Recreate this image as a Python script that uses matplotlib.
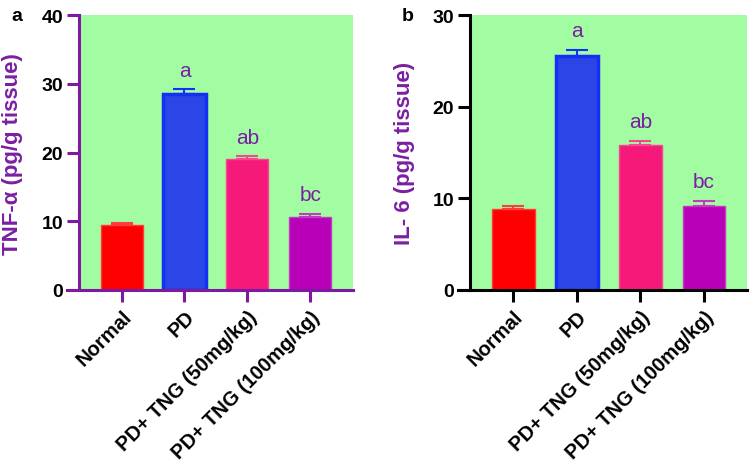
import numpy as np
import matplotlib
matplotlib.use('Agg')
import matplotlib.pyplot as plt

plt.rcParams['font.family'] = ['Liberation Sans', 'DejaVu Sans']

groups = ['Normal', 'PD', 'PD+ TNG (50mg/kg)', 'PD+ TNG (100mg/kg)']
tnf_mean = [9.4, 28.6, 19.0, 10.6]
tnf_err = [0.4, 0.6, 0.45, 0.5]
il6_mean = [8.85, 25.5, 15.8, 9.15]
il6_err = [0.35, 0.7, 0.45, 0.55]
letters = ['', 'a', 'ab', 'bc']

bar_colors = ['#ff0000', '#2b45e6', '#f5197a', '#b800b8']
edge_colors = ['#ff3b3b', '#1530f5', '#f7478f', '#c43ac4']
edge_widths = [1.0, 2.5, 1.0, 1.0]
label_purple = '#7a1fa2'
bg_green = '#a2fca2'

fig = plt.figure(figsize=(7.51, 4.77), dpi=100)


def panel(rect, means, errs, ymax, ylabel, spine_color, tag, tag_x, ylabel_x):
    ax = fig.add_axes(rect)
    x = np.arange(len(groups))
    ax.set_facecolor(bg_green)
    ax.bar(x, means, width=0.67, color=bar_colors, edgecolor=edge_colors,
           linewidth=edge_widths, zorder=2)
    for i in range(len(x)):
        ax.errorbar(x[i], means[i], yerr=[[0], [errs[i]]], color=edge_colors[i],
                    capsize=8, elinewidth=1.5, capthick=1.5, zorder=1)
        if letters[i]:
            ax.annotate(letters[i], (x[i], means[i] + errs[i]), xytext=(0, 7),
                        textcoords='offset points', ha='center', va='bottom',
                        fontsize=15, color=label_purple)
    ax.set_xlim(-0.68, 3.68)
    ax.set_ylim(0, ymax)
    ax.set_yticks(np.arange(0, ymax + 1, 10))
    ax.set_xticks(x)
    ax.set_xticklabels(groups, rotation=45, ha='right', rotation_mode='anchor',
                       fontsize=14.5, fontweight='bold')
    for t in ax.get_yticklabels():
        t.set_fontweight('bold')
        t.set_fontsize(14)
    ax.spines['top'].set_visible(False)
    ax.spines['right'].set_visible(False)
    for s in ['left', 'bottom']:
        ax.spines[s].set_color(spine_color)
        ax.spines[s].set_linewidth(2.2)
    ax.spines['bottom'].set_bounds(-0.68 - 0.19, 3.68)
    ax.tick_params(axis='both', color=spine_color, width=2.2, length=8.5)
    ax.tick_params(axis='y', pad=3)
    ax.set_ylabel(ylabel, fontsize=16, fontweight='bold', color=label_purple)
    ax.yaxis.set_label_coords(ylabel_x, 0.5)
    fig.text(tag_x, 0.965, tag, fontsize=14, fontweight='bold', va='center', ha='center')
    return ax


panel([0.105, 0.39, 0.365, 0.576], tnf_mean, tnf_err, 40, 'TNF-α (pg/g tissue)',
      '#7d1aa0', 'a', 0.022, -0.204)
panel([0.626, 0.39, 0.369, 0.576], il6_mean, il6_err, 30, 'IL- 6 (pg/g tissue)',
      'black', 'b', 0.543, -0.199)

fig.savefig('out.png', dpi=100)
